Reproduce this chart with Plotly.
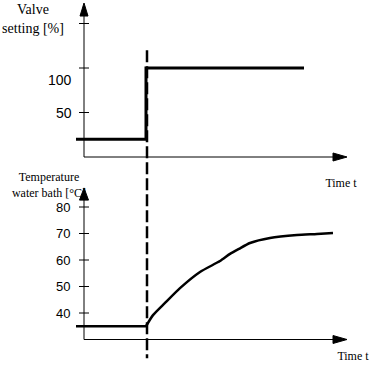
import plotly.graph_objects as go

# ---- data ----
# time in arbitrary units, step of valve at t = 0
valve_t = [-7.1, -0.1, -0.1, 15.7]
valve_v = [20, 20, 100, 100]          # valve setting [%]

temp_t = [-7.1, -0.1, 0.6, 1.8, 3.3, 5.3, 7.3, 8.3, 9.2, 10.3, 12.3, 15.0, 17.0, 18.6]
temp_v = [35, 35, 39.2, 43.8, 49.4, 55.5, 59.6, 62.3, 64.2, 66.4, 68.3, 69.4, 69.8, 70.2]  # temperature [°C]

valve_ticks = [50, 100, 150]
valve_tick_labels = ["50", "100", ""]
temp_ticks = [40, 50, 60, 70, 80]
temp_tick_labels = ["40", "50", "60", "70", "80"]

step_time = 0.0

# ---- axis geometry (data units) ----
AX_T = -6.3          # position of vertical axes on time scale
AX_END = 18.6        # start of horizontal arrowheads
AX_TIP = 20.0
X_RANGE = [-14.7, 22.7]
Y1_RANGE = [-238.2, 176.4]
Y2_RANGE = [18.87, 158.11]

fig = go.Figure()

# valve setting
fig.add_trace(go.Scatter(x=valve_t, y=valve_v, mode="lines",
                         line=dict(color="black", width=3), yaxis="y",
                         hoverinfo="skip"))
# temperature: flat part before the step, then smooth rise
fig.add_trace(go.Scatter(x=temp_t[:2], y=temp_v[:2], mode="lines",
                         line=dict(color="black", width=2.5),
                         yaxis="y2", hoverinfo="skip"))
fig.add_trace(go.Scatter(x=temp_t[1:], y=temp_v[1:], mode="lines",
                         line=dict(color="black", width=2.5, shape="spline", smoothing=0.6),
                         yaxis="y2", hoverinfo="skip"))

serif = "Liberation Serif"
sans = "Liberation Sans"

# text labels as traces (so arrowheads drawn above can overlap)
fig.add_trace(go.Scatter(x=[-11.4], y=[154], mode="text", yaxis="y",
                         text=["Valve<br>setting [%]"], cliponaxis=False,
                         textfont=dict(family=serif, size=14, color="black"),
                         hoverinfo="skip"))
fig.add_trace(go.Scatter(x=[-9.8], y=[88.0], mode="text", yaxis="y2",
                         text=["Temperature<br>water bath [°C]"], cliponaxis=False,
                         textfont=dict(family=serif, size=12, color="black"),
                         hoverinfo="skip"))
fig.add_trace(go.Scatter(x=[19.4], y=[-30.5], mode="text", yaxis="y",
                         text=["Time t"], cliponaxis=False,
                         textfont=dict(family=serif, size=12, color="black"),
                         hoverinfo="skip"))
fig.add_trace(go.Scatter(x=[20.6], y=[23.4], mode="text", yaxis="y2",
                         text=["Time t"], cliponaxis=False,
                         textfont=dict(family=serif, size=12, color="black"),
                         hoverinfo="skip"))

shapes = []
ann = []

def line(x0, y0, x1, y1, yref, width=1, dash=None):
    d = dict(type="line", xref="x", yref=yref, x0=x0, y0=y0, x1=x1, y1=y1,
             line=dict(color="black", width=width), layer="above")
    if dash:
        d["line"]["dash"] = dash
    shapes.append(d)

def tri(points, yref):
    p = "M " + " L ".join(f"{x},{y}" for x, y in points) + " Z"
    shapes.append(dict(type="path", xref="x", yref=yref, path=p,
                       fillcolor="black", line=dict(color="black", width=1),
                       layer="above"))

# top panel axes
line(AX_T, 0, AX_T, 160, "y")
line(AX_T, 0, AX_END, 0, "y")
tri([(AX_T - 0.4, 158.4), (AX_T + 0.4, 158.4), (AX_T, 173)], "y")
tri([(AX_END, -4.5), (AX_END, 4.5), (AX_TIP, 0)], "y")
for v, lab in zip(valve_ticks, valve_tick_labels):
    line(AX_T - 0.5, v, AX_T + 0.5, v, "y")
    if lab:
        yoff = -13.5 if v == 100 else 0
        ann.append(dict(x=-7.3, y=v + yoff, xref="x", yref="y", text=lab,
                        showarrow=False, xanchor="right", yanchor="middle",
                        font=dict(family=sans, size=14, color="black")))

# bottom panel axes
line(AX_T, 30, AX_T, 83, "y2")
line(AX_T, 30, AX_END, 30, "y2")
tri([(AX_T - 0.45, 82.6), (AX_T + 0.45, 82.6), (AX_T, 87.2)], "y2")
tri([(AX_END, 28.5), (AX_END, 31.5), (AX_TIP, 30)], "y2")
for v, lab in zip(temp_ticks, temp_tick_labels):
    line(AX_T - 0.5, v, AX_T + 0.5, v, "y2")
    ann.append(dict(x=-7.5, y=v, xref="x", yref="y2", text=lab,
                    showarrow=False, xanchor="right", yanchor="middle",
                    font=dict(family=sans, size=13, color="black")))

# dashed step-time marker across both panels
line(step_time, 120, step_time, -226, "y", width=2.5, dash="12px,4px")

fig.update_layout(
    width=374, height=369,
    margin=dict(l=0, r=0, t=0, b=0),
    paper_bgcolor="white", plot_bgcolor="white",
    showlegend=False,
    xaxis=dict(range=X_RANGE, visible=False, fixedrange=True),
    yaxis=dict(range=Y1_RANGE, visible=False, fixedrange=True),
    yaxis2=dict(range=Y2_RANGE, visible=False, overlaying="y", anchor="x", fixedrange=True),
    shapes=shapes, annotations=ann,
)

# remove the browser's default 8px page margin so the figure fills the window
fig.write_html("out.html",
               config={"displayModeBar": False, "staticPlot": True},
               post_script="document.body.style.margin='0';document.body.style.overflow='hidden';")
